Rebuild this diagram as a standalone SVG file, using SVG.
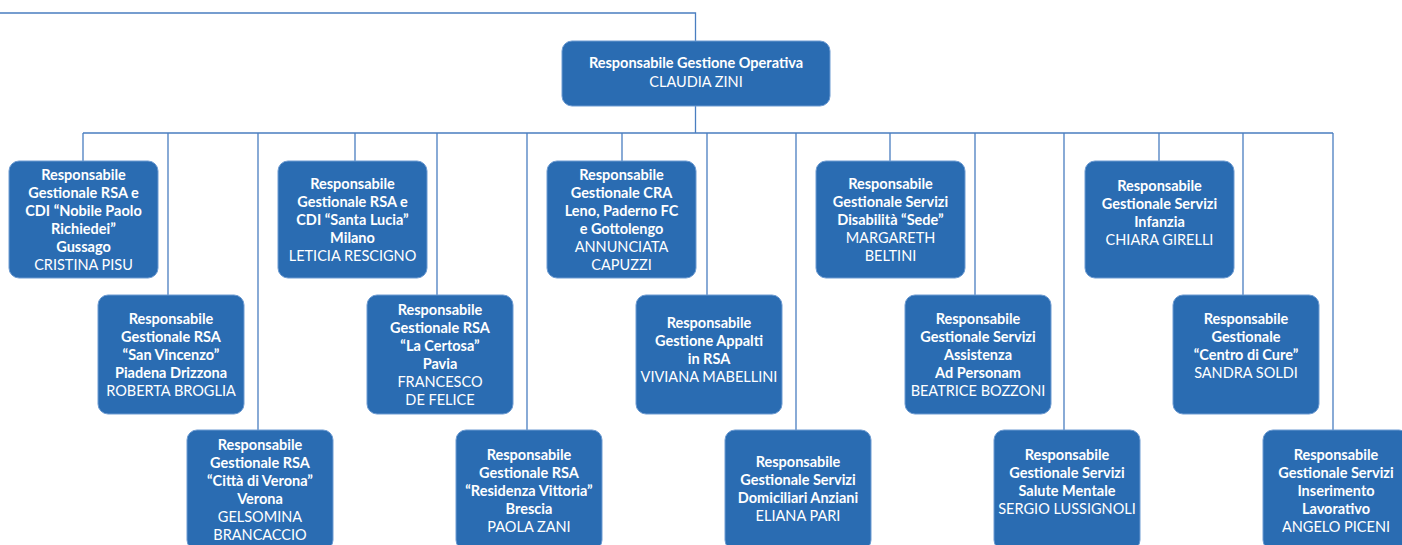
<svg xmlns="http://www.w3.org/2000/svg" width="1402" height="545" viewBox="0 0 1402 545">
<style>
.box{fill:#2a6cb2;stroke:#6d9bd2;stroke-width:1}
.ln{stroke:#4a7ec0;stroke-width:1.3;fill:none}
text{font-family:Lato,"Liberation Sans",sans-serif;font-size:14.5px;fill:#fff;text-anchor:middle}
.b{font-weight:bold}
.r{font-weight:normal}
</style>
<rect width="1402" height="545" fill="#fff"/>
<g id="connectors">
<path class="ln" d="M0 13H695.5V41M695.5 106V133M83 133H1333"/>
<path class="ln" d="M83 133V161M168 133V295M258 133V430M355 133V161M437 133V295M527 133V430M622 133V161M707 133V295M796 133V430M890 133V161M975 133V295M1064 133V430M1159 133V161M1243 133V295M1333 133V430"/>
</g>
<g id="n0"><rect class="box" x="562" y="41" width="268" height="65" rx="10"/>
<text x="696" y="68" class="b">Responsabile Gestione Operativa</text><text x="696" y="87" class="r">CLAUDIA ZINI</text></g>

<g id="n1"><rect class="box" x="9" y="161" width="149" height="117" rx="10"/>
<text x="83.5" y="180" class="b"><tspan x="83.5">Responsabile</tspan><tspan x="83.5" dy="18">Gestionale RSA e</tspan><tspan x="83.5" dy="18">CDI “Nobile Paolo</tspan><tspan x="83.5" dy="18">Richiedei”</tspan><tspan x="83.5" dy="18">Gussago</tspan><tspan x="83.5" dy="18" class="r">CRISTINA PISU</tspan></text></g>

<g id="n2"><rect class="box" x="278" y="161" width="149" height="117" rx="10"/>
<text x="352.5" y="189" class="b"><tspan x="352.5">Responsabile</tspan><tspan x="352.5" dy="18">Gestionale RSA e</tspan><tspan x="352.5" dy="18">CDI “Santa Lucia”</tspan><tspan x="352.5" dy="18">Milano</tspan><tspan x="352.5" dy="18" class="r">LETICIA RESCIGNO</tspan></text></g>

<g id="n3"><rect class="box" x="547" y="161" width="149" height="117" rx="10"/>
<text x="621.5" y="180" class="b"><tspan x="621.5">Responsabile</tspan><tspan x="621.5" dy="18">Gestionale CRA</tspan><tspan x="621.5" dy="18">Leno, Paderno FC</tspan><tspan x="621.5" dy="18">e Gottolengo</tspan><tspan x="621.5" dy="18" class="r">ANNUNCIATA</tspan><tspan x="621.5" dy="18" class="r">CAPUZZI</tspan></text></g>

<g id="n4"><rect class="box" x="816" y="161" width="149" height="117" rx="10"/>
<text x="890.5" y="189" class="b"><tspan x="890.5">Responsabile</tspan><tspan x="890.5" dy="18">Gestionale Servizi</tspan><tspan x="890.5" dy="18">Disabilità “Sede”</tspan><tspan x="890.5" dy="18" class="r">MARGARETH</tspan><tspan x="890.5" dy="18" class="r">BELTINI</tspan></text></g>

<g id="n5"><rect class="box" x="1085" y="161" width="149" height="117" rx="10"/>
<text x="1159.5" y="191" class="b"><tspan x="1159.5">Responsabile</tspan><tspan x="1159.5" dy="18">Gestionale Servizi</tspan><tspan x="1159.5" dy="18">Infanzia</tspan><tspan x="1159.5" dy="18" class="r">CHIARA GIRELLI</tspan></text></g>

<g id="n6"><rect class="box" x="98" y="295" width="146" height="119" rx="10"/>
<text x="171" y="324" class="b"><tspan x="171">Responsabile</tspan><tspan x="171" dy="18">Gestionale RSA</tspan><tspan x="171" dy="18">“San Vincenzo”</tspan><tspan x="171" dy="18">Piadena Drizzona</tspan><tspan x="171" dy="18" class="r">ROBERTA BROGLIA</tspan></text></g>

<g id="n7"><rect class="box" x="367" y="295" width="146" height="119" rx="10"/>
<text x="440" y="315" class="b"><tspan x="440">Responsabile</tspan><tspan x="440" dy="18">Gestionale RSA</tspan><tspan x="440" dy="18">“La Certosa”</tspan><tspan x="440" dy="18">Pavia</tspan><tspan x="440" dy="18" class="r">FRANCESCO</tspan><tspan x="440" dy="18" class="r">DE FELICE</tspan></text></g>

<g id="n8"><rect class="box" x="636" y="295" width="146" height="119" rx="10"/>
<text x="709" y="328" class="b"><tspan x="709">Responsabile</tspan><tspan x="709" dy="18">Gestione Appalti</tspan><tspan x="709" dy="18">in RSA</tspan><tspan x="709" dy="18" class="r">VIVIANA MABELLINI</tspan></text></g>

<g id="n9"><rect class="box" x="905" y="295" width="146" height="119" rx="10"/>
<text x="978" y="324" class="b"><tspan x="978">Responsabile</tspan><tspan x="978" dy="18">Gestionale Servizi</tspan><tspan x="978" dy="18">Assistenza</tspan><tspan x="978" dy="18">Ad Personam</tspan><tspan x="978" dy="18" class="r">BEATRICE BOZZONI</tspan></text></g>

<g id="n10"><rect class="box" x="1173" y="295" width="146" height="119" rx="10"/>
<text x="1246" y="324" class="b"><tspan x="1246">Responsabile</tspan><tspan x="1246" dy="18">Gestionale</tspan><tspan x="1246" dy="18">“Centro di Cure”</tspan><tspan x="1246" dy="18" class="r">SANDRA SOLDI</tspan></text></g>

<g id="n11"><rect class="box" x="187" y="430" width="146" height="120" rx="10"/>
<text x="260" y="450" class="b"><tspan x="260">Responsabile</tspan><tspan x="260" dy="18">Gestionale RSA</tspan><tspan x="260" dy="18">“Città di Verona”</tspan><tspan x="260" dy="18">Verona</tspan><tspan x="260" dy="18" class="r">GELSOMINA</tspan><tspan x="260" dy="18" class="r">BRANCACCIO</tspan></text></g>

<g id="n12"><rect class="box" x="456" y="430" width="146" height="120" rx="10"/>
<text x="529" y="460" class="b"><tspan x="529">Responsabile</tspan><tspan x="529" dy="18">Gestionale RSA</tspan><tspan x="529" dy="18">“Residenza Vittoria”</tspan><tspan x="529" dy="18">Brescia</tspan><tspan x="529" dy="18" class="r">PAOLA ZANI</tspan></text></g>

<g id="n13"><rect class="box" x="725" y="430" width="146" height="120" rx="10"/>
<text x="798" y="467" class="b"><tspan x="798">Responsabile</tspan><tspan x="798" dy="18">Gestionale Servizi</tspan><tspan x="798" dy="18">Domiciliari Anziani</tspan><tspan x="798" dy="18" class="r">ELIANA PARI</tspan></text></g>

<g id="n14"><rect class="box" x="994" y="430" width="146" height="120" rx="10"/>
<text x="1067" y="460" class="b"><tspan x="1067">Responsabile</tspan><tspan x="1067" dy="18">Gestionale Servizi</tspan><tspan x="1067" dy="18">Salute Mentale</tspan><tspan x="1067" dy="18" class="r">SERGIO LUSSIGNOLI</tspan></text></g>

<g id="n15"><rect class="box" x="1263" y="430" width="146" height="120" rx="10"/>
<text x="1336" y="460" class="b"><tspan x="1336">Responsabile</tspan><tspan x="1336" dy="18">Gestionale Servizi</tspan><tspan x="1336" dy="18">Inserimento</tspan><tspan x="1336" dy="18">Lavorativo</tspan><tspan x="1336" dy="18" class="r">ANGELO PICENI</tspan></text></g>
</svg>
